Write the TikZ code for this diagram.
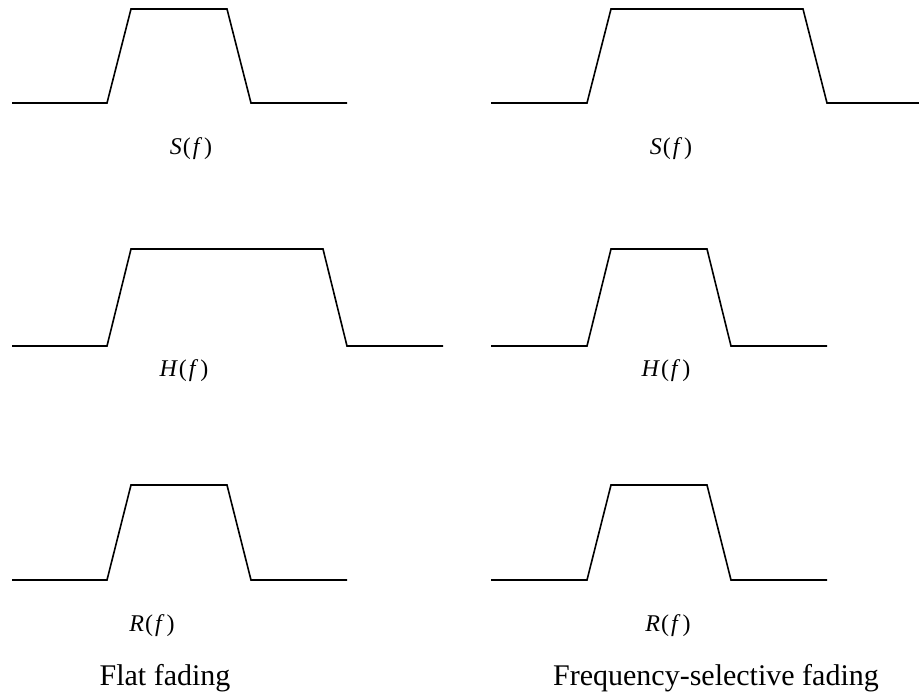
\documentclass[tikz,border=0pt]{standalone}
\usepackage{fontspec}
\setmainfont{Liberation Serif}
\usetikzlibrary{positioning}
\tikzset{
  spectrum/.style={line width=1.6pt, line join=miter},
  fnlabel/.style={font=\fontsize{24}{28}\selectfont, inner sep=0pt},
  caption/.style={font=\fontsize{30}{36}\selectfont, inner sep=0pt, anchor=base}
}
\newcommand{\fnof}[1]{\textit{#1}\kern1pt(\kern2pt\textit{f}\kern2pt)}

\begin{document}
\begin{tikzpicture}[x=1pt,y=-1pt]
  \useasboundingbox (0,0) rectangle (919,694);

  % Flat fading
  \draw[spectrum] (12,103) -- (107,103) -- (131,9) -- (227,9) -- (251,103) -- (347,103);
  \node[fnlabel] (sleft) at (191,149) {\fnof{S}};
  \draw[spectrum] (12,346) -- (107,346) -- (131,249) -- (323,249) -- (347,346) -- (443,346);
  \node[fnlabel] (hleft) at (184,371) {\fnof{H}};
  \draw[spectrum] (12,580) -- (107,580) -- (131,485) -- (227,485) -- (251,580) -- (347,580);
  \node[fnlabel] (rleft) at (152,626) {\fnof{R}};
  \node[caption] (flat) at (165,685) {Flat fading};

  % Frequency-selective fading
  \draw[spectrum] (491,103) -- (587,103) -- (611,9) -- (803,9) -- (827,103) -- (919,103);
  \node[fnlabel] (sright) at (671,149) {\fnof{S}};
  \draw[spectrum] (491,346) -- (587,346) -- (611,249) -- (707,249) -- (731,346) -- (827,346);
  \node[fnlabel] (hright) at (666,371) {\fnof{H}};
  \draw[spectrum] (491,580) -- (587,580) -- (611,485) -- (707,485) -- (731,580) -- (827,580);
  \node[fnlabel] (rright) at (668,626) {\fnof{R}};
  \node[caption] (selective) at (716,685) {Frequency-selective fading};
\end{tikzpicture}
\end{document}
